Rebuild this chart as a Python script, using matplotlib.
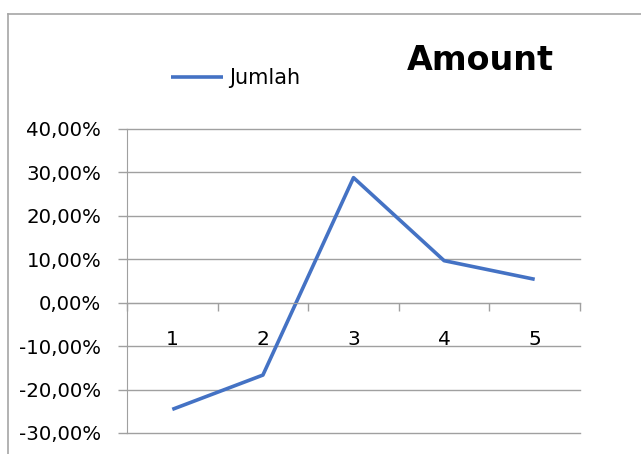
import matplotlib.pyplot as plt
from matplotlib.ticker import FuncFormatter, FixedLocator
from matplotlib.lines import Line2D

categories = ['1', '2', '3', '4', '5']
jumlah = [-0.2456, -0.1666, 0.288, 0.0968, 0.0539]
y_ticks = [-0.3, -0.2, -0.1, 0.0, 0.1, 0.2, 0.3, 0.4]

plt.rcParams['font.family'] = ['DejaVu Sans']
grid_col = '#a0a0a0'

fig = plt.figure(figsize=(6.41, 4.54), dpi=100)
ax = fig.add_axes([127/641, 1-433/454, 453/641, 304/454])

x = list(range(1, len(categories)+1))
ax.plot(x, jumlah, color='#4472C4', lw=2.6, solid_capstyle='butt', label='Jumlah')

ax.set_xlim(0.5, 5.5)
ax.set_ylim(-0.3, 0.4)
ax.set_yticks(y_ticks)
ax.yaxis.set_major_formatter(FuncFormatter(lambda v, p: f'{v*100:.2f}%'.replace('.', ',')))
ax.grid(axis='y', color=grid_col, lw=1.0)
for gl in ax.get_ygridlines():
    gl.set_clip_on(False)
ax.set_axisbelow(True)

for s in ['top', 'right']:
    ax.spines[s].set_visible(False)
ax.spines['left'].set_color(grid_col)
ax.spines['bottom'].set_position(('data', 0))
ax.spines['bottom'].set_color(grid_col)

ax.xaxis.set_major_locator(FixedLocator([i + 0.5 for i in range(0, 6)]))
ax.xaxis.set_major_formatter(FuncFormatter(lambda v, p: ''))
ax.xaxis.set_minor_locator(FixedLocator(x))
ax.set_xticklabels(categories, minor=True)
ax.tick_params(axis='x', which='major', direction='out', length=6, color=grid_col, width=1)
ax.tick_params(axis='x', which='minor', length=0, pad=20, labelsize=14.5)
ax.tick_params(axis='y', length=6.5, color=grid_col, width=1, pad=12, labelsize=14.2)

leg = fig.legend(loc='center left', bbox_to_anchor=(171/641, 1-78/454), frameon=False,
                 fontsize=15, handlelength=2.5, handletextpad=0.27,
                 borderpad=0, borderaxespad=0)
fig.text(480/641, 1-61/454, 'Amount', ha='center', va='center', fontsize=24, fontweight='bold')

# chart frame (partially visible)
fig.add_artist(Line2D([8/641, 8/641], [0, 1-14/454], color='#a6a6a6', lw=1.2))
fig.add_artist(Line2D([8/641, 1], [1-14/454, 1-14/454], color='#a6a6a6', lw=1.2))

fig.savefig('out.png', dpi=100)
